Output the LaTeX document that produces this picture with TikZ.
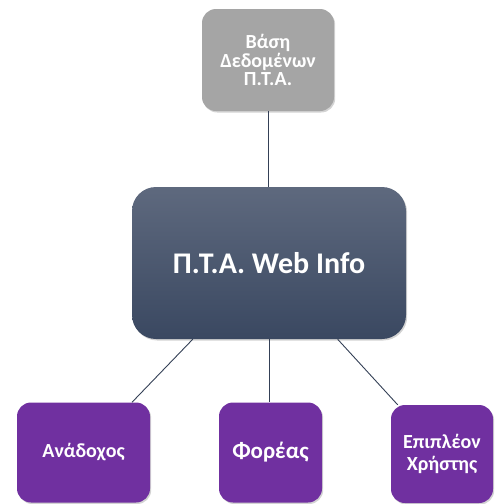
\documentclass[tikz,border=0pt]{standalone}
\usepackage{fontspec}
\setmainfont{Carlito}
\usetikzlibrary{shadows}

\definecolor{dbgray}{RGB}{165,165,165}
\definecolor{rolepurple}{RGB}{112,48,160}
\definecolor{webtop}{RGB}{94,105,126}
\definecolor{webbottom}{RGB}{58,72,97}
\definecolor{linkline}{RGB}{52,64,86}

\tikzset{
    box/.style={rectangle, rounded corners=14pt, inner sep=0pt, align=center,
        text=white, font=\bfseries,
        drop shadow={opacity=0.35, shadow xshift=1.2pt, shadow yshift=-1.5pt}},
    rolebox/.style={box, fill=rolepurple, minimum height=100pt},
    link/.style={draw=linkline, line width=0.9pt}
}

\begin{document}
\begin{tikzpicture}[x=1pt, y=-1pt]
        \useasboundingbox (0,0) rectangle (497,504);
        % database on top
        \node[box, fill=dbgray, minimum width=132pt, minimum height=102pt, font=\bfseries\fontsize{20}{18.5}\selectfont]
            (db) at (268,60) {Βάση\\Δεδομένων\\Π.Τ.Α.};
        % main application
        \node[box, top color=webtop, bottom color=webbottom, rounded corners=24pt,
            minimum width=274pt, minimum height=152pt, font=\bfseries\fontsize{30}{34}\selectfont]
            (web) at (269,263) {Π.Τ.Α. Web Info};
        % users
        \node[rolebox, minimum width=133pt, font=\bfseries\fontsize{20}{22}\selectfont]
            (contractor) at (83.5,452.5) {Ανάδοχος};
        \node[rolebox, minimum width=103pt, font=\bfseries\fontsize{23}{26}\selectfont]
            (agency) at (270.5,452.5) {Φορέας};
        \node[rolebox, minimum width=102pt, minimum height=98pt, font=\bfseries\fontsize{20}{21.5}\selectfont]
            (extra) at (442,454) {Επιπλέον\\Χρήστης};
        \draw[link] (db.south) -- (db.south |- web.north);
        \draw[link] (web.-135) -- (contractor.46);
        \draw[link] (web.south) -- (web.south |- agency.north);
        \draw[link] (web.-48) -- (extra.132.6);
    \end{tikzpicture}
\end{document}
